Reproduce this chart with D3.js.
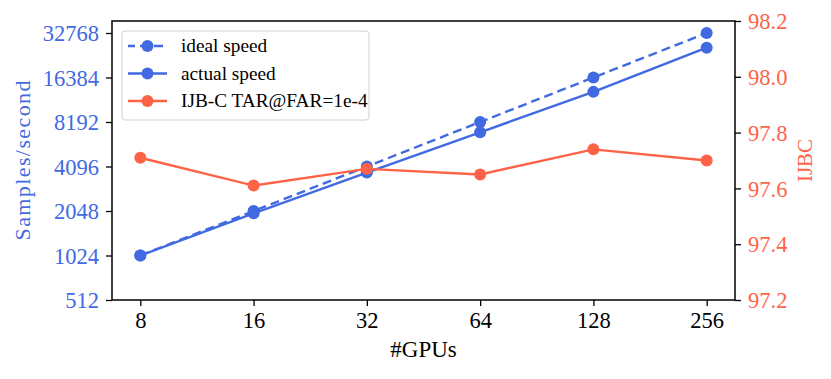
<!DOCTYPE html>
<html>
<head>
<meta charset="utf-8">
<script src="https://cdn.jsdelivr.net/npm/d3@7"></script>
<style>
  body { margin: 0; background: #fff; }
  svg text { font-family: "Liberation Serif", "DejaVu Serif", serif; }
</style>
</head>
<body>
<div id="chart"></div>
<script>
// data
const gpus = [8, 16, 32, 64, 128, 256];
const idealSpeed = [1024, 2048, 4096, 8192, 16384, 32768];
const actualSpeed = [1024, 1976, 3730, 6980, 13100, 26050];
const ijbc = [97.71, 97.61, 97.67, 97.65, 97.74, 97.70];
const leftTicks = [512, 1024, 2048, 4096, 8192, 16384, 32768];
const rightTicks = [97.2, 97.4, 97.6, 97.8, 98.0, 98.2];

const blue = "#4169e1", red = "#ff6347";
const w = 831, h = 379;
const mLeft = 112, mRight = 735, mTop = 21, mBottom = 300;

let svg = d3.select("#chart").append("svg")
    .attr("width", w)
    .attr("height", h);

let x = d3.scaleLog().base(2)
    .domain([8 * Math.pow(2, -0.25), 256 * Math.pow(2, 0.25)])
    .range([mLeft, mRight]);
let yL = d3.scaleLog().base(2)
    .domain([512, 32768 * Math.pow(2, 0.27)])
    .range([mBottom, mTop]);
let yR = d3.scaleLinear()
    .domain([97.2, 98.2])
    .range([mBottom, mTop]);

// axes
let xAxis = svg.append("g")
    .attr("transform", "translate(0," + mBottom + ")")
    .call(d3.axisBottom(x).tickValues(gpus).tickFormat(d => d).tickSizeOuter(0).tickSize(6).tickPadding(6));
xAxis.selectAll("text").attr("fill", "#000").style("font-size", "22.5px");

let lAxis = svg.append("g")
    .attr("transform", "translate(" + mLeft + ",0)")
    .call(d3.axisLeft(yL).tickValues(leftTicks).tickFormat(d => d).tickSizeOuter(0).tickSize(6).tickPadding(7));
lAxis.selectAll("text").attr("fill", blue).attr("dy", "0.34em").style("font-size", "22.5px");

let rAxis = svg.append("g")
    .attr("transform", "translate(" + mRight + ",0)")
    .call(d3.axisRight(yR).tickValues(rightTicks).tickFormat(d3.format(".1f")).tickSizeOuter(0).tickSize(6).tickPadding(7));
rAxis.selectAll("text").attr("fill", red).attr("dy", "0.34em").style("font-size", "22.5px");

svg.selectAll(".domain").remove();
svg.selectAll(".tick line").attr("stroke", "#000").attr("stroke-width", 1.3);

// frame
svg.append("rect")
    .attr("x", mLeft).attr("y", mTop)
    .attr("width", mRight - mLeft).attr("height", mBottom - mTop)
    .attr("fill", "none").attr("stroke", "#000").attr("stroke-width", 1.5);

// axis labels
svg.append("text")
    .attr("transform", "translate(30," + (mTop + mBottom) / 2 + ") rotate(-90)")
    .attr("text-anchor", "middle")
    .attr("fill", blue)
    .attr("textLength", 160)
    .attr("lengthAdjust", "spacing")
    .style("font-size", "22px")
    .text("Samples/second");

svg.append("text")
    .attr("transform", "translate(812," + (mTop + mBottom) / 2 + ") rotate(-90)")
    .attr("text-anchor", "middle")
    .attr("fill", red)
    .style("font-size", "21px")
    .text("IJBC");

svg.append("text")
    .attr("x", (mLeft + mRight) / 2)
    .attr("y", 357)
    .attr("text-anchor", "middle")
    .attr("fill", "#000")
    .style("font-size", "23px")
    .text("#GPUs");

// series
let series = [
    { name: "ideal speed", vals: idealSpeed, y: yL, color: blue, dash: "9,5" },
    { name: "actual speed", vals: actualSpeed, y: yL, color: blue, dash: null },
    { name: "IJB-C TAR@FAR=1e-4", vals: ijbc, y: yR, color: red, dash: null }
];

series.forEach(s => {
    let line = d3.line()
        .x((d, i) => x(gpus[i]))
        .y(d => s.y(d));
    svg.append("path")
        .datum(s.vals)
        .attr("d", line)
        .attr("fill", "none")
        .attr("stroke", s.color)
        .attr("stroke-width", 2.4)
        .attr("stroke-dasharray", s.dash);
    svg.selectAll(null)
        .data(s.vals)
        .enter()
        .append("circle")
        .attr("cx", (d, i) => x(gpus[i]))
        .attr("cy", d => s.y(d))
        .attr("r", 6)
        .attr("fill", s.color);
});

// legend
let legend = svg.append("g");
legend.append("rect")
    .attr("x", 122).attr("y", 31)
    .attr("width", 247).attr("height", 89)
    .attr("rx", 3)
    .attr("fill", "#fff").attr("fill-opacity", 0.8)
    .attr("stroke", "#d0d0d0").attr("stroke-width", 1);

series.forEach((s, i) => {
    let ly = 46 + i * 27.5;
    legend.append("line")
        .attr("x1", 128).attr("x2", 167)
        .attr("y1", ly).attr("y2", ly)
        .attr("stroke", s.color).attr("stroke-width", 2.4)
        .attr("stroke-dasharray", s.dash ? "9,5" : null)
        .attr("stroke-dashoffset", s.dash ? 2 : null);
    legend.append("circle")
        .attr("cx", 147.5).attr("cy", ly).attr("r", 6)
        .attr("fill", s.color);
    legend.append("text")
        .attr("x", 181).attr("y", ly)
        .attr("dy", "0.33em")
        .attr("fill", "#000")
        .style("font-size", "19.3px")
        .text(s.name);
});
</script>
</body>
</html>
